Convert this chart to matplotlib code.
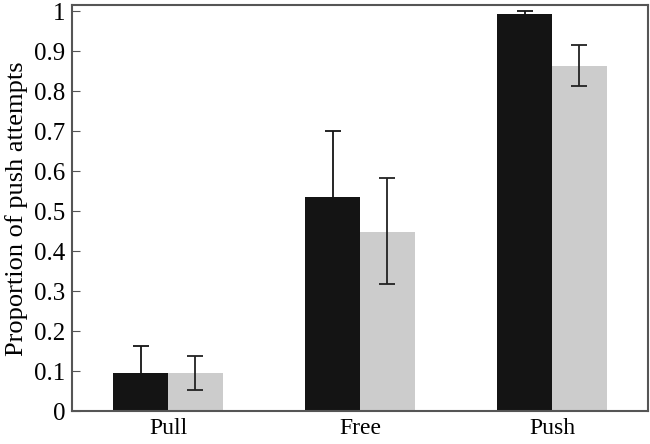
import numpy as np
import matplotlib.pyplot as plt

plt.rcParams['font.family'] = ['Liberation Serif', 'DejaVu Serif']

conditions = ["Pull", "Free", "Push"]
black_vals = [0.095, 0.535, 0.993]
black_err = [0.067, 0.165, 0.007]
gray_vals = [0.095, 0.449, 0.864]
gray_lo = [0.042, 0.132, 0.052]
gray_hi = [0.043, 0.133, 0.053]

x = np.arange(len(conditions))
w = 0.285

fig, ax = plt.subplots(figsize=(6.5, 4.44), dpi=100)
fig.subplots_adjust(left=0.111, right=0.997, top=0.988, bottom=0.074)

ax.bar(x + w / 2, gray_vals, w, color="#cccccc",
       yerr=[gray_lo, gray_hi], ecolor="#222222", capsize=6,
       error_kw={"elinewidth": 1.3, "capthick": 1.3})
# black bars: only the upper half of the error bar shows
eb = ax.errorbar(x - w / 2, black_vals, yerr=[np.zeros(3), black_err], fmt="none",
                 ecolor="#141414", capsize=6, elinewidth=1.3, capthick=1.3, zorder=1)
eb[1][0].set_visible(False)
ax.bar(x - w / 2, black_vals, w, color="#141414", zorder=2)

ax.set_xlim(-0.5, 2.5)
ax.set_ylim(0, 1.015)
ax.set_yticks(np.arange(0, 1.01, 0.1))
ax.set_yticklabels(["0"] + ["%.1f" % v for v in np.arange(0.1, 0.95, 0.1)] + ["1"])
ax.set_xticks(x)
ax.set_xticklabels(conditions)
ax.tick_params(axis="y", direction="in", length=6, labelsize=18, color="#555555", pad=5)
ax.tick_params(axis="x", length=0, labelsize=17, pad=5)
ax.set_ylabel("Proportion of push attempts", fontsize=19, labelpad=4)
for s in ax.spines.values():
    s.set_color("#555555")
    s.set_linewidth(1.5)

plt.savefig("out.png")
